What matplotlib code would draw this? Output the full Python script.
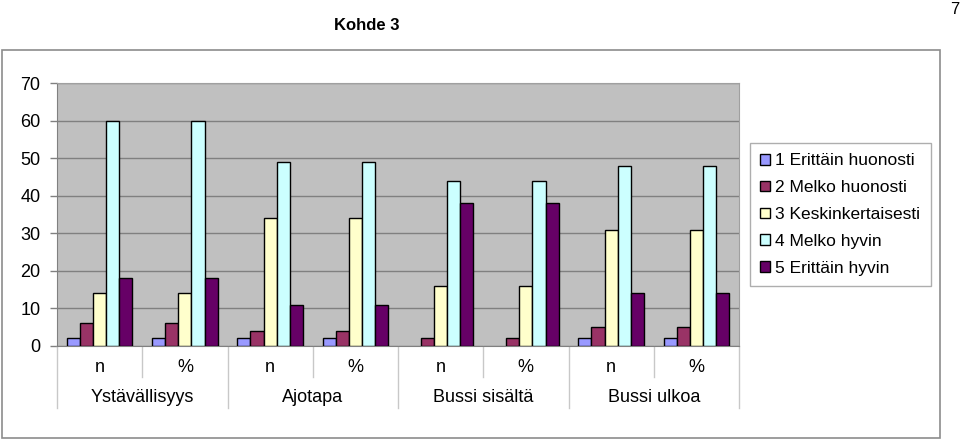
import numpy as np
import matplotlib.pyplot as plt
import matplotlib as mpl
from matplotlib.patches import Rectangle
from matplotlib.lines import Line2D

mpl.rcParams['font.family'] = ['Liberation Sans', 'DejaVu Sans']

sub_labels = ["n", "%", "n", "%", "n", "%", "n", "%"]
groups = ["Ystävällisyys", "Ajotapa", "Bussi sisältä", "Bussi ulkoa"]
series = ["1 Erittäin huonosti", "2 Melko huonosti", "3 Keskinkertaisesti",
          "4 Melko hyvin", "5 Erittäin hyvin"]
v1 = [2, 2, 2, 2, 0, 0, 2, 2]
v2 = [6, 6, 4, 4, 2, 2, 5, 5]
v3 = [14, 14, 34, 34, 16, 16, 31, 31]
v4 = [60, 60, 49, 49, 44, 44, 48, 48]
v5 = [18, 18, 11, 11, 38, 38, 14, 14]
values = [v1, v2, v3, v4, v5]
colors = ["#9999FF", "#993366", "#FFFFCC", "#CCFFFF", "#660066"]

W, H = 960, 441
fig = plt.figure(figsize=(W / 100, H / 100), dpi=100)


def fx(px):
    return px / W


def fy(py):
    return 1 - py / H


# outer chart frame
fig.patches.append(Rectangle((fx(2), fy(438)), fx(940) - fx(2), fy(50) - fy(438),
                             transform=fig.transFigure, fill=False,
                             edgecolor="#8c8c8c", linewidth=1.2))
fig.text(fx(367), fy(25), "Kohde 3", ha="center", va="center",
         fontsize=12, fontweight="bold",
         family=["Liberation Sans Narrow", "Liberation Sans"])
fig.text(fx(955), fy(9), "7", ha="center", va="center", fontsize=12)

left, right, top, bottom = 57, 739, 83, 346
ax = fig.add_axes([fx(left), fy(bottom), fx(right - left), fy(top) - fy(bottom)])
ax.set_facecolor("#C0C0C0")

x = np.arange(len(sub_labels))
w = 1 / 6.5
for i, vals in enumerate(values):
    vals = np.asarray(vals)
    lw = np.where(vals > 0, 1.0, 0.0)
    ax.bar(x + (i - 2) * w, vals, width=w, color=colors[i], edgecolor="black",
           linewidth=lw, label=series[i], zorder=3)

ax.set_xlim(-0.5, len(sub_labels) - 0.5)
ax.set_ylim(0, 70)
ax.set_yticks(range(0, 71, 10))
ax.yaxis.grid(True, color="#808080", linewidth=1)
ax.set_axisbelow(True)
ax.tick_params(axis="y", labelsize=13, length=5, width=1, color="#808080", pad=7)
ax.set_xticks([])
for s in ["left", "bottom"]:
    ax.spines[s].set_color("#808080")
for s in ["top", "right"]:
    ax.spines[s].set_color("#a0a0a0")

# category axis: sub labels, group labels, separators
trans = ax.get_xaxis_transform()
for k, lab in enumerate(sub_labels):
    ax.text(k, -(368 - bottom) / (bottom - top), lab, transform=trans,
            ha="center", va="center", fontsize=13)
for g, lab in enumerate(groups):
    ax.text(2 * g + 0.5, -(398 - bottom) / (bottom - top), lab, transform=trans,
            ha="center", va="center", fontsize=13)
for b in range(len(sub_labels) + 1):
    depth = 408 if b % 2 == 0 else 377
    ax.add_line(Line2D([b - 0.5, b - 0.5], [0, -(depth - bottom) / (bottom - top)],
                       transform=trans, color="#c8c8c8", linewidth=1, clip_on=False))

leg = ax.legend(loc="upper left", bbox_to_anchor=(fx(750), fy(143)),
                bbox_transform=fig.transFigure, fontsize=12.5, frameon=True,
                fancybox=False, edgecolor="#9a9a9a", borderaxespad=0,
                handlelength=0.55, handleheight=0.55, handletextpad=0.3,
                labelspacing=0.68, borderpad=0.6)
leg.get_frame().set_linewidth(1)

fig.savefig("out.png", dpi=100)
